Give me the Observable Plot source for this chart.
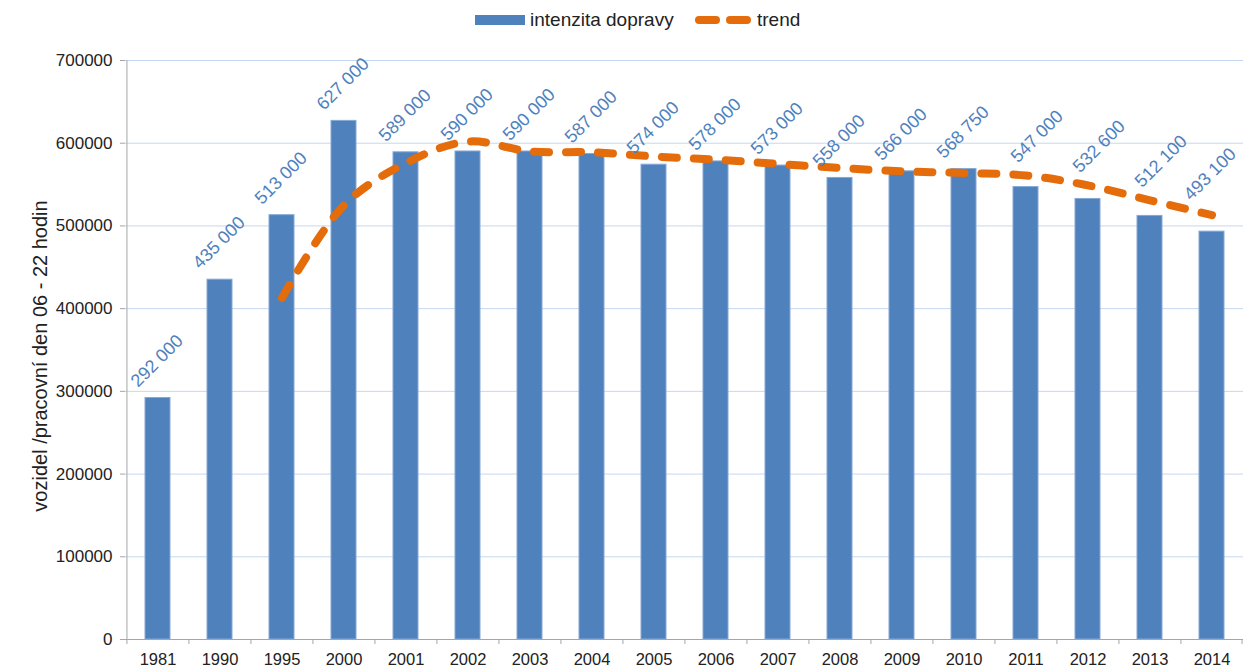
<!DOCTYPE html>
<html>
<head>
<meta charset="utf-8">
<script src="https://cdn.jsdelivr.net/npm/d3@7"></script>
<script src="https://cdn.jsdelivr.net/npm/@observablehq/plot@0.6"></script>
<style>
  body { margin: 0; background: #fff; font-family: "Liberation Sans", Arial, sans-serif; }
  #legend { position: relative; width: 1245px; height: 40px; }
  #legend .sw { position: absolute; }
  #legend .lt { position: absolute; font-size: 19px; color: #222; line-height: 1; white-space: nowrap; }
</style>
</head>
<body>
<div id="legend">
  <div class="sw" style="left:475px; top:15px; width:50px; height:10px; background:#4f81bd;"></div>
  <span class="lt" style="left:530px; top:10px;">intenzita dopravy</span>
  <svg class="sw" style="left:694px; top:12px;" width="64" height="16">
    <line x1="5" y1="8" x2="60" y2="8" stroke="#e46c0a" stroke-width="8" stroke-linecap="round" stroke-dasharray="17,14"/>
  </svg>
  <span class="lt" style="left:757px; top:10px;">trend</span>
</div>
<div id="chart"></div>
<script>
const years = ["1981","1990","1995","2000","2001","2002","2003","2004","2005","2006","2007","2008","2009","2010","2011","2012","2013","2014"];
const traffic = [292000,435000,513000,627000,589000,590000,590000,587000,574000,578000,573000,558000,566000,568750,547000,532600,512100,493100];
const trendYears = ["1995","2000","2001","2002","2003","2004","2005","2006","2007","2008","2009","2010","2011","2012","2013","2014"];
const trendValues = [413000,525000,576000,602000,590000,589000,584000,580000,575000,570000,566000,564000,561000,549000,531000,513000];
const yTicks = [0,100000,200000,300000,400000,500000,600000,700000];
const yTitle = "vozidel /pracovní den 06 - 22 hodin";
// value labels of these years sit above the trend line instead of the bar top
const labelsOnTrend = ["2011","2012","2013"];
const labelsOnTrendEdge = ["2014"];

const data = years.map((y, i) => ({year: y, value: traffic[i]}));
const trend = trendYears.map((y, i) => ({year: y, value: trendValues[i]}));
const trendOf = new Map(trend.map(d => [d.year, d.value]));
const fmt = v => d3.format(",")(v).replace(/,/g, " ");
const normalLabels = data.filter(d => !labelsOnTrend.includes(d.year) && !labelsOnTrendEdge.includes(d.year));
const liftedLabels = data.filter(d => labelsOnTrend.includes(d.year));
const edgeLabels = data.filter(d => labelsOnTrendEdge.includes(d.year));

const W = 1245, H = 630, ML = 125, MR = 2, MT = 20, MB = 31;
const step = (W - ML - MR) / years.length;
const axisColor = "#a6a6a6";
const labelColor = "#4f81bd";
const labelStyle = {rotate: -45, textAnchor: "start", fill: labelColor, fontSize: 18, text: d => fmt(d.value)};

const chart = Plot.plot({
  width: W, height: H,
  marginLeft: ML, marginRight: MR, marginTop: MT, marginBottom: MB,
  style: {fontFamily: "'Liberation Sans', Arial, sans-serif", fontSize: "16px", color: "#222", background: "#fff"},
  x: {type: "band", domain: years, paddingInner: 0.6, paddingOuter: 0.3, align: 0.5},
  y: {domain: [0, 700000]},
  marks: [
    Plot.ruleY(yTicks.slice(1), {stroke: "#c6d8ef", strokeWidth: 1}),
    Plot.barY(data, {x: "year", y: "value", fill: "#4f81bd", stroke: "#86a8d6", strokeWidth: 1}),
    Plot.line(trend, {x: "year", y: "value", stroke: "#e46c0a", strokeWidth: 8, strokeDasharray: "15,17", strokeLinecap: "round", curve: "catmull-rom"}),
    Plot.text(normalLabels, {x: "year", y: "value", dx: -24, dy: -14, ...labelStyle}),
    Plot.text(liftedLabels, {x: "year", y: d => trendOf.get(d.year), dx: -12, dy: -16, ...labelStyle}),
    Plot.text(edgeLabels, {x: "year", y: d => trendOf.get(d.year), dx: -25, dy: -18, ...labelStyle}),
    Plot.axisY({ticks: yTicks, tickFormat: d3.format("d"), tickSize: 5, tickPadding: 8, stroke: axisColor, fontSize: 17, label: null}),
    Plot.axisX({tickSize: 0, tickPadding: 14, fontSize: 16.5, label: null}),
    Plot.ruleY([0], {stroke: axisColor}),
    Plot.ruleX(years.slice(0, 1), {x: d => d, dx: -step / 2, stroke: axisColor}),
    Plot.ruleX(years, {x: d => d, y1: 0, y2: 0, insetBottom: -5, dx: -step / 2, stroke: axisColor}),
    Plot.ruleX(years.slice(-1), {x: d => d, y1: 0, y2: 0, insetBottom: -5, dx: step / 2 - 1, stroke: axisColor}),
    Plot.text([yTitle], {frameAnchor: "left", textAnchor: "middle", rotate: -90, dx: -85, dy: 6, text: d => d, fontSize: 20, fill: "#222"})
  ]
});
document.getElementById("chart").appendChild(chart);
</script>
</body>
</html>
